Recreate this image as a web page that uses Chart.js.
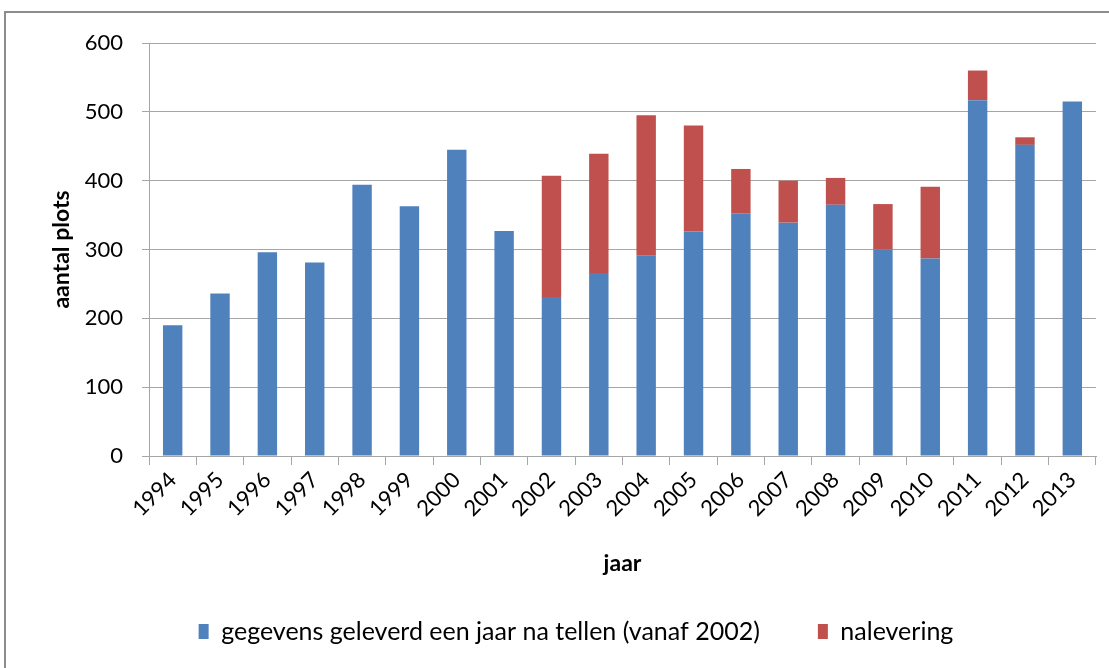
<!DOCTYPE html>
<html>
<head>
<meta charset="utf-8">
<script src="https://cdn.jsdelivr.net/npm/chart.js@4/dist/chart.umd.min.js"></script>
<style>
  body { margin: 0; background: #fff; }
  #frame {
    position: absolute; left: 4px; top: 11px; width: 1200px; height: 800px;
    border-left: 2px solid #8c8c8c; border-top: 2px solid #8c8c8c;
  }
  #wrap { position: absolute; left: 0; top: 0; width: 1109px; height: 668px; }
</style>
</head>
<body>
<div id="frame"></div>
<div id="wrap"><canvas id="chart"></canvas></div>
<script>
// ===== Data =====
let years = ["1994", "1995", "1996", "1997", "1998", "1999", "2000", "2001", "2002", "2003",
  "2004", "2005", "2006", "2007", "2008", "2009", "2010", "2011", "2012", "2013"];

let geleverd = [190, 236, 296, 281, 394, 363, 445, 327, 231, 266,
  291, 326, 352, 339, 365, 300, 287, 517, 452, 515];

let nalevering = [0, 0, 0, 0, 0, 0, 0, 0, 176, 173,
  204, 154, 65, 61, 39, 66, 104, 43, 11, 0];

let yTicks = [0, 100, 200, 300, 400, 500, 600];

// ===== Style =====
let fontName = "Lato";
let gridColor = "#a6a6a6";

// legend sits a bit right of the canvas centre in the original
let legendShift = {
  id: "legendShift",
  afterLayout(chart) {
    chart.legend.left += 28;
    chart.legend.right += 28;
  }
};

// ===== Chart =====
let ctx = document.getElementById("chart").getContext("2d");

new Chart(ctx, {
  type: "bar",
  data: {
    labels: years,
    datasets: [
      {
        label: "gegevens geleverd een jaar na tellen (vanaf 2002)",
        data: geleverd,
        backgroundColor: "#4f81bd",
        barPercentage: 0.41,
        categoryPercentage: 1
      },
      {
        label: "nalevering",
        data: nalevering,
        backgroundColor: "#c0504d",
        barPercentage: 0.41,
        categoryPercentage: 1
      }
    ]
  },
  options: {
    responsive: true,
    maintainAspectRatio: false,
    animation: false,
    layout: { padding: { top: 43, right: 13, left: 0, bottom: 14 } },
    scales: {
      x: {
        stacked: true,
        grid: {
          offset: true,
          drawOnChartArea: false,
          drawTicks: true,
          tickLength: 9,
          color: gridColor
        },
        border: { color: gridColor },
        ticks: {
          color: "#000",
          font: { family: fontName, size: 22 },
          minRotation: 45,
          maxRotation: 45,
          padding: 2
        },
        title: {
          display: true,
          text: "jaar",
          color: "#000",
          font: { family: fontName, size: 23, weight: "bold" },
          padding: { top: 0, bottom: -16 }
        },
        afterFit: scale => { scale.height = 105; }
      },
      y: {
        stacked: true,
        min: 0,
        max: 600,
        afterBuildTicks: scale => {
          scale.ticks = yTicks.map(v => ({ value: v }));
        },
        grid: {
          color: gridColor,
          tickLength: 7
        },
        border: { color: gridColor },
        ticks: {
          color: "#000",
          font: { family: fontName, size: 22 },
          padding: 19
        },
        title: {
          display: true,
          text: "aantal plots",
          color: "#000",
          font: { family: fontName, size: 23, weight: "bold" },
          padding: { top: 48, bottom: 0 }
        },
        afterFit: scale => { scale.width = 149; }
      }
    },
    plugins: {
      legend: {
        position: "bottom",
        labels: {
          color: "#000",
          font: { family: fontName, size: 25 },
          boxWidth: 10,
          boxHeight: 15,
          padding: 58
        }
      },
      tooltip: { enabled: false }
    }
  },
  plugins: [legendShift]
});
</script>
</body>
</html>
